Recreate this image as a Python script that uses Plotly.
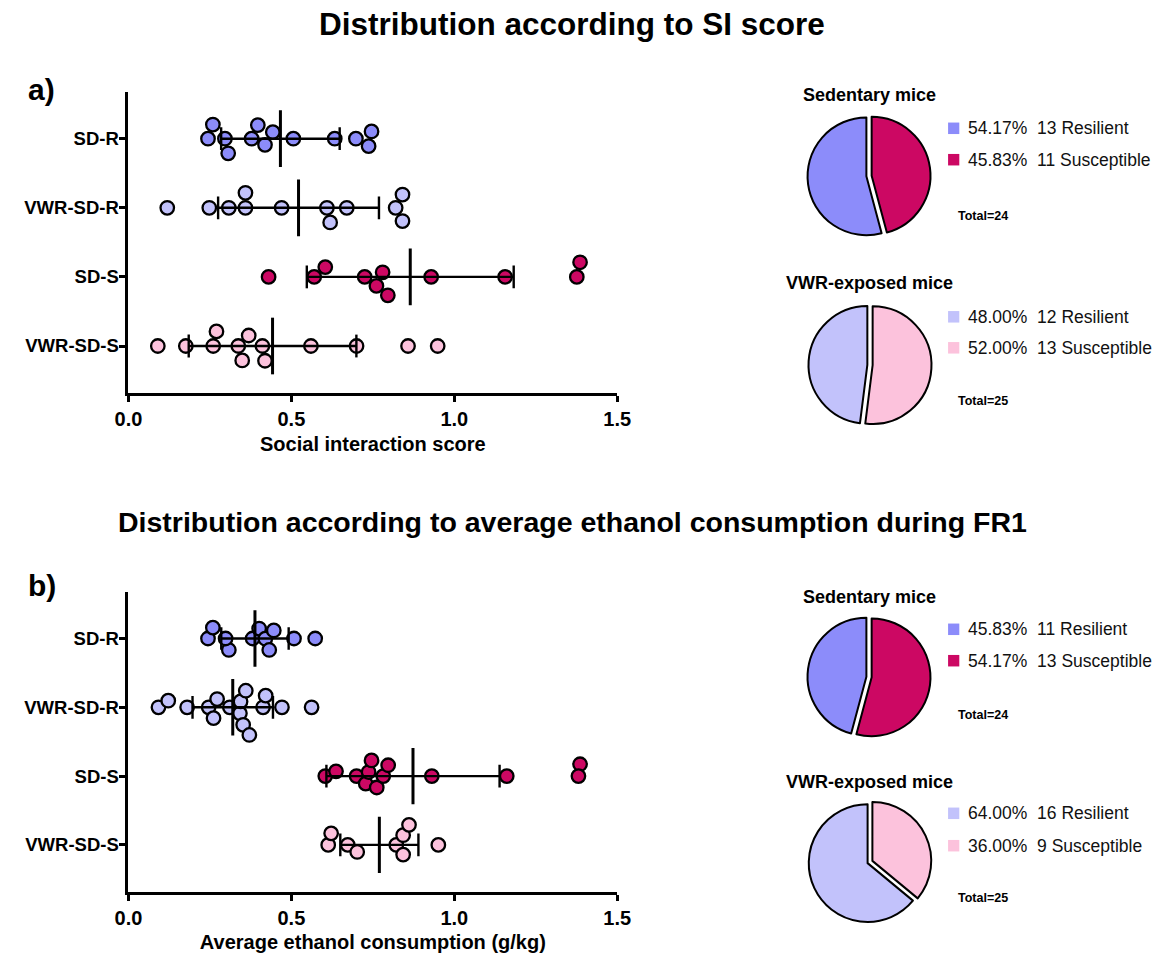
import numpy as np
import plotly.graph_objects as go

# ---------------- data ----------------
groups = ["SD-R", "VWR-SD-R", "SD-S", "VWR-SD-S"]

# Panel a: social interaction score
si_sd_r = [0.244, 0.419, 0.746, 0.259, 0.306, 0.397, 0.443, 0.506, 0.633, 0.698, 0.296, 0.378, 0.737]
si_vwr_sd_r = [0.119, 0.248, 0.359, 0.470, 0.670, 0.820, 0.308, 0.609, 0.841, 0.359, 0.619, 0.841]
si_sd_s = [0.430, 0.725, 0.796, 0.929, 1.156, 0.570, 0.780, 1.386, 0.604, 0.761, 1.376]
si_vwr_sd_s = [0.090, 0.176, 0.349, 0.560, 0.700, 0.858, 0.949, 0.260, 0.369, 0.411, 0.270, 0.419, 0.337]

# Panel b: average ethanol consumption (g/kg)
eth_sd_r = [0.244, 0.259, 0.308, 0.298, 0.381, 0.401, 0.420, 0.432, 0.446, 0.508, 0.573]
eth_vwr_sd_r = [0.092, 0.122, 0.180, 0.246, 0.261, 0.272, 0.311, 0.342, 0.344, 0.352, 0.360,
                0.371, 0.413, 0.421, 0.471, 0.562]
eth_sd_s = [0.604, 0.637, 0.700, 0.728, 0.737, 0.746, 0.762, 0.782, 0.797, 0.931, 1.161, 1.386, 1.381]
eth_vwr_sd_s = [0.613, 0.622, 0.673, 0.702, 0.822, 0.843, 0.843, 0.861, 0.951]

pie_labels = ["Resilient", "Susceptible"]
si_sed_counts = [13, 11]
si_vwr_counts = [12, 13]
eth_sed_counts = [11, 13]
eth_vwr_counts = [16, 9]

x_ticks = [0.0, 0.5, 1.0, 1.5]

# ---------------- styles ----------------
group_colors = ["#8C8CFA", "#C2C2FB", "#CC0863", "#FCC2DC"]
sed_colors = [group_colors[0], group_colors[2]]
vwr_colors = [group_colors[1], group_colors[3]]
FONT = "Liberation Sans, Arial, Helvetica, sans-serif"
W, H = 1169, 954


def X(px):
    return px / W


def Y(py):
    return 1 - py / H


X0, X1 = 117.3, 618.0
YR = [3.68, -0.68]
panels = {
    "a": dict(top=91.7, bottom=393.0),
    "b": dict(top=591.7, bottom=891.7),
}
XSCALE = (X1 - X0) / (x_ticks[-1] - x_ticks[0])
YSCALE = (panels["a"]["bottom"] - panels["a"]["top"]) / (YR[0] - YR[1])


def swarm(values, diam):
    vals = np.asarray(values, dtype=float)
    order = np.argsort(vals, kind="stable")
    placed = []
    offs = np.zeros(len(vals))
    flip = 1.0
    for i in order:
        x = vals[i] * XSCALE
        cands = [0.0]
        for xj, yj in placed:
            dx = x - xj
            if abs(dx) < diam:
                h = np.sqrt(diam * diam - dx * dx)
                cands += [yj + h, yj - h]
        cands = sorted(set(cands), key=lambda c: (round(abs(c), 6), flip * c))
        chosen = 0.0
        for c in cands:
            if all((x - xj) ** 2 + (c - yj) ** 2 >= diam * diam - 1e-6 for xj, yj in placed):
                chosen = c
                break
        if chosen != 0.0:
            flip = -flip
        placed.append((x, chosen))
        offs[i] = chosen
    return offs / YSCALE


fig = go.Figure()


def add_panel(data_list, xa, ya, diam):
    for gi, (vals, col) in enumerate(zip(data_list, group_colors)):
        offs = swarm(vals, diam)
        fig.add_trace(go.Scatter(
            x=vals, y=gi + offs, mode="markers", xaxis=xa, yaxis=ya,
            marker=dict(size=13.5, color=col, line=dict(color="black", width=2.3)),
            showlegend=False, hoverinfo="x", name=groups[gi]))
    ex, ey, mx, my = [], [], [], []
    for gi, vals in enumerate(data_list):
        v = np.asarray(vals)
        m, s = v.mean(), v.std(ddof=1)
        ex += [m - s, m + s, None, m - s, m - s, None, m + s, m + s, None]
        ey += [gi, gi, None, gi - 0.165, gi + 0.165, None, gi - 0.165, gi + 0.165, None]
        mx += [m, m, None]
        my += [gi - 0.41, gi + 0.41, None]
    fig.add_trace(go.Scatter(x=ex, y=ey, mode="lines", xaxis=xa, yaxis=ya,
                             line=dict(color="black", width=2.4), showlegend=False, hoverinfo="skip"))
    fig.add_trace(go.Scatter(x=mx, y=my, mode="lines", xaxis=xa, yaxis=ya,
                             line=dict(color="black", width=3), showlegend=False, hoverinfo="skip"))


add_panel([si_sd_r, si_vwr_sd_r, si_sd_s, si_vwr_sd_s], "x", "y", 15.0)
add_panel([eth_sd_r, eth_vwr_sd_r, eth_sd_s, eth_vwr_sd_s], "x2", "y2", 12.0)

axis_common_x = dict(
    range=[x_ticks[0], x_ticks[-1]], tickvals=x_ticks, tickformat=".1f",
    showline=True, linecolor="black", linewidth=3, ticks="outside", ticklen=6,
    tickwidth=3, tickcolor="black", showgrid=False, zeroline=False,
    tickfont=dict(family=FONT, size=20, color="black", weight="bold"),
    title_font=dict(family=FONT, size=20, color="black", weight="bold"),
    title_standoff=8, fixedrange=True,
)
axis_common_y = dict(
    range=YR, tickvals=list(range(len(groups))), ticktext=groups,
    showline=True, linecolor="black", linewidth=3, ticks="outside", ticklen=6,
    tickwidth=2.5, tickcolor="black", showgrid=False, zeroline=False,
    tickfont=dict(family=FONT, size=18.5, color="black", weight="bold"),
    ticklabelstandoff=-3, fixedrange=True,
)

fig.update_layout(
    xaxis=dict(domain=[X(X0), X(X1)], anchor="y", title_text="Social interaction score", **axis_common_x),
    yaxis=dict(domain=[Y(panels["a"]["bottom"]), Y(panels["a"]["top"])], anchor="x", **axis_common_y),
    xaxis2=dict(domain=[X(X0), X(X1)], anchor="y2", title_text="Average ethanol consumption (g/kg)",
                **axis_common_x),
    yaxis2=dict(domain=[Y(panels["b"]["bottom"]), Y(panels["b"]["top"])], anchor="x2", **axis_common_y),
)

# ---------------- pies ----------------
# Drawn clockwise from 12 o'clock: susceptible first (right side), resilient on the left.
pie_specs = [
    (si_sed_counts, sed_colors, 876, 176),
    (si_vwr_counts, vwr_colors, 877, 365),
    (eth_sed_counts, sed_colors, 876, 677),
    (eth_vwr_counts, vwr_colors, 877, 862),
]
PIE_R = 63
for counts, cols, cx, cy in pie_specs:
    fig.add_trace(go.Pie(
        labels=pie_labels[::-1], values=counts[::-1], sort=False, direction="clockwise", rotation=0,
        marker=dict(colors=cols[::-1], line=dict(color="black", width=2)),
        pull=[0.045, 0.045], textinfo="none", showlegend=False, hoverinfo="label+value+percent",
        domain=dict(x=[X(cx - PIE_R), X(cx + PIE_R)], y=[Y(cy + PIE_R), Y(cy - PIE_R)]),
    ))

annotations = []
shapes = []


def text(x, y, s, size, bold=True, xanchor="center", color="black"):
    annotations.append(dict(
        x=X(x), y=Y(y), xref="paper", yref="paper", text=s, showarrow=False,
        xanchor=xanchor, yanchor="middle",
        font=dict(family=FONT, size=size, color=color, weight="bold" if bold else "normal")))


# titles
text(572, 24, "Distribution according to SI score", 31.5)
text(572, 522, "Distribution according to average ethanol consumption during FR1", 28.5)
text(12, 89, "a)", 30, xanchor="left")
text(12, 585, "b)", 30, xanchor="left")

pie_titles = [("Sedentary mice", 95), ("VWR-exposed mice", 283.3),
              ("Sedentary mice", 596.7), ("VWR-exposed mice", 781.7)]
for t, yy in pie_titles:
    text(876, yy, t, 18)

legend_rows = [(128.3, 159.7), (316.8, 347.8), (629.3, 660.7), (813.3, 845.7)]
total_rows = [215.7, 400.7, 715.0, 898.3]
for (counts, cols, cx, cy), rows, ty in zip(pie_specs, legend_rows, total_rows):
    tot = sum(counts)
    for c, col, lab, ry in zip(counts, cols, pie_labels, rows):
        shapes.append(dict(type="rect", xref="paper", yref="paper",
                           x0=X(957), x1=X(968.5), y0=Y(ry + 5.75), y1=Y(ry - 5.75),
                           fillcolor=col, line=dict(width=0)))
        text(975, ry, f"{100 * c / tot:.2f}%  {c} {lab}", 17.5, bold=False, xanchor="left", color="#111")
    text(965, ty, f"Total={tot}", 12.5, xanchor="left")

fig.update_layout(
    width=W, height=H, margin=dict(l=0, r=0, t=0, b=0),
    paper_bgcolor="white", plot_bgcolor="white",
    annotations=annotations, shapes=shapes,
    font=dict(family=FONT, color="black"),
)

fig.write_html("out.html", config={"displayModeBar": False},
               post_script="document.body.style.margin='0px';")
